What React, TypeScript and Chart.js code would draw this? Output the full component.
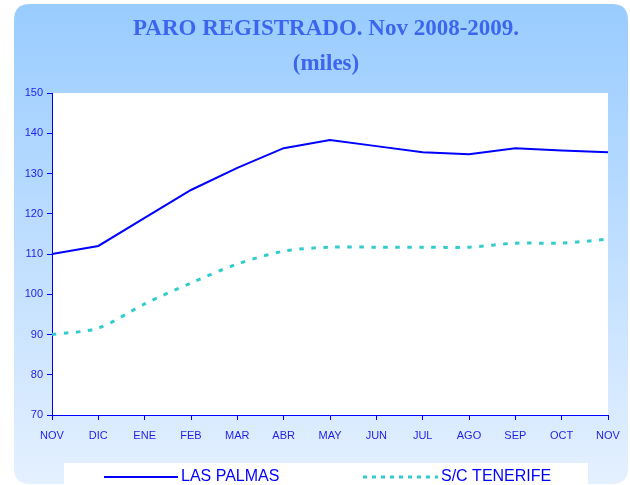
import React, { useEffect, useRef } from "react";
import { Chart, registerables } from "chart.js";

Chart.register(...registerables);

const MONTHS = ["NOV", "DIC", "ENE", "FEB", "MAR", "ABR", "MAY", "JUN", "JUL", "AGO", "SEP", "OCT", "NOV"];
const LAS_PALMAS = [110, 112, 119, 125.9, 131.4, 136.3, 138.3, 136.8, 135.3, 134.8, 136.3, 135.7, 135.3];
const TENERIFE = [90, 91.6, 97.6, 102.8, 107.5, 110.7, 111.7, 111.7, 111.7, 111.7, 112.7, 112.7, 113.7];
const TITLE_LINES = ["PARO REGISTRADO. Nov 2008-2009.", "(miles)"];
const SERIES_NAMES = ["LAS PALMAS", "S/C TENERIFE"];

const BLUE = "#0000ff";
const TICK_BLUE = "#1f1fe8";
const TEAL = "#33cccc";

const decorPlugin = {
  id: "decor",
  beforeDraw(chart: any) {
    const { ctx, width, height, chartArea } = chart;
    ctx.save();
    ctx.fillStyle = "#ffffff";
    ctx.fillRect(0, 0, width, height);
    const x0 = 14, y0 = 4, x1 = 628, y1 = 484, r = 16;
    const g = ctx.createLinearGradient(0, y0, 0, y1);
    g.addColorStop(0, "#99ccff");
    g.addColorStop(1, "#e4f0ff");
    ctx.beginPath();
    ctx.moveTo(x0 + r, y0);
    ctx.lineTo(x1 - r, y0);
    ctx.quadraticCurveTo(x1, y0, x1, y0 + r);
    ctx.lineTo(x1, y1 - r);
    ctx.quadraticCurveTo(x1, y1, x1 - r, y1);
    ctx.lineTo(x0 + r, y1);
    ctx.quadraticCurveTo(x0, y1, x0, y1 - r);
    ctx.lineTo(x0, y0 + r);
    ctx.quadraticCurveTo(x0, y0, x0 + r, y0);
    ctx.closePath();
    ctx.fillStyle = g;
    ctx.fill();
    ctx.fillStyle = "#ffffff";
    ctx.fillRect(chartArea.left, chartArea.top, chartArea.right - chartArea.left, chartArea.bottom - chartArea.top);
    ctx.fillRect(64, 463, 524, 30);
    ctx.fillStyle = "#3d66ee";
    ctx.font = "bold 23px 'Liberation Serif', serif";
    ctx.textAlign = "center";
    ctx.textBaseline = "alphabetic";
    ctx.fillText(TITLE_LINES[0], 326, 35);
    ctx.fillText(TITLE_LINES[1], 326, 70);
    ctx.restore();
  },
  afterDraw(chart: any) {
    const { ctx } = chart;
    ctx.save();
    const items = [
      { x: 104, len: 74, color: BLUE, dash: [] as number[], w: 2, tx: 181 },
      { x: 363, len: 75, color: TEAL, dash: [4, 5], w: 3, tx: 441 },
    ];
    ctx.font = "16px 'Liberation Sans', Arial, sans-serif";
    ctx.textBaseline = "middle";
    ctx.textAlign = "left";
    items.forEach((it, i) => {
      ctx.beginPath();
      ctx.setLineDash(it.dash);
      ctx.strokeStyle = it.color;
      ctx.lineWidth = it.w;
      ctx.moveTo(it.x, 477);
      ctx.lineTo(it.x + it.len, 477);
      ctx.stroke();
      ctx.setLineDash([]);
      ctx.fillStyle = BLUE;
      ctx.fillText(SERIES_NAMES[i], it.tx, 477);
    });
    ctx.restore();
  },
};

export default function App() {
  const ref = useRef<HTMLCanvasElement>(null);
  useEffect(() => {
    document.body.style.margin = "0";
    const chart = new Chart(ref.current!, {
      type: "line",
      data: {
        labels: MONTHS,
        datasets: [
          {
            label: SERIES_NAMES[0],
            data: LAS_PALMAS,
            borderColor: BLUE,
            borderWidth: 2,
            pointRadius: 0,
            tension: 0,
            fill: false,
          },
          {
            label: SERIES_NAMES[1],
            data: TENERIFE,
            borderColor: TEAL,
            borderWidth: 3,
            borderDash: [4.5, 7.5],
            borderCapStyle: "butt",
            pointRadius: 0,
            tension: 0.3,
            fill: false,
          },
        ],
      },
      options: {
        responsive: false,
        animation: false,
        layout: { padding: { left: 0, right: 22, top: 93, bottom: 40 } },
        plugins: { legend: { display: false }, title: { display: false }, tooltip: { enabled: false } },
        scales: {
          x: {
            offset: false,
            grid: { display: true, drawOnChartArea: false, drawTicks: true, tickLength: 5, color: BLUE },
            border: { display: true, color: BLUE, width: 1 },
            ticks: {
              color: TICK_BLUE,
              font: { family: "'Liberation Sans', Arial, sans-serif", size: 11 },
              maxRotation: 0,
              autoSkip: false,
              padding: 9,
            },
            afterFit: (s: any) => { s.height = 30; },
          },
          y: {
            min: 70,
            max: 150,
            grid: { display: true, drawOnChartArea: false, drawTicks: true, tickLength: 5, color: BLUE },
            border: { display: true, color: BLUE, width: 1 },
            ticks: {
              stepSize: 10,
              color: TICK_BLUE,
              font: { family: "'Liberation Sans', Arial, sans-serif", size: 11 },
              padding: 4,
            },
            afterFit: (s: any) => { s.width = 52; },
          },
        },
      },
      plugins: [decorPlugin],
    });
    return () => chart.destroy();
  }, []);
  return <canvas ref={ref} width={630} height={485} style={{ display: "block" }} />;
}
